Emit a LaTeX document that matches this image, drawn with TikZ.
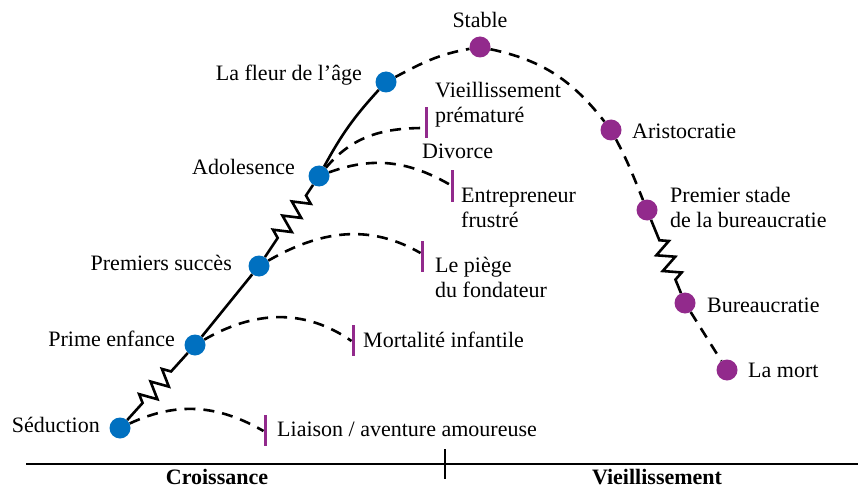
\documentclass[tikz,border=0pt]{standalone}
\usepackage{fontspec}
\setmainfont{Liberation Serif}
\usetikzlibrary{decorations.pathmorphing}
\definecolor{dotblue}{RGB}{0,112,192}
\definecolor{dotpurple}{RGB}{146,42,140}
\begin{document}
\begin{tikzpicture}[x=1pt,y=1pt,
  bluedot/.style={circle,fill=dotblue,inner sep=0pt,minimum size=21pt},
  purpledot/.style={circle,fill=dotpurple,inner sep=0pt,minimum size=21pt},
  endbar/.style={rectangle,fill=dotpurple,inner sep=0pt,minimum width=3pt,minimum height=31pt},
  lab/.style={inner sep=0pt,font=\fontsize{22}{25}\selectfont},
  solidline/.style={line width=2.6pt,black},
  dashline/.style={line width=2.6pt,black,dash pattern=on 11pt off 8pt},
  springdeco/.style={decorate,decoration={zigzag,segment length=17pt,amplitude=8.5pt,#1}}
]
\useasboundingbox (0,0) rectangle (858,488);

% dots
\node[bluedot] (sed) at (120,60) {};
\node[bluedot] (prime) at (195,143) {};
\node[bluedot] (succes) at (259,222) {};
\node[bluedot] (ado) at (319,312) {};
\node[bluedot] (fleur) at (386,406) {};
\node[purpledot] (stable) at (480,441) {};
\node[purpledot] (aristo) at (611,358) {};
\node[purpledot] (premier) at (647,278) {};
\node[purpledot] (bureau) at (685,185) {};
\node[purpledot] (mort) at (727,118) {};

% bars
\node[endbar] (b1) at (265,58) {};
\node[endbar] (b2) at (353,147.5) {};
\node[endbar] (b3) at (422,232) {};
\node[endbar] (b4) at (452,302) {};
\node[endbar] (b5) at (426,365) {};
\coordinate (e1) at (263.5,57);
\coordinate (e2) at (351.5,147);
\coordinate (e3) at (420.5,235);
\coordinate (e4) at (450.5,303);
\coordinate (e5) at (424.5,360);

% main path
\draw[solidline,springdeco={pre length=23pt,post length=19pt}] (sed) -- (prime);
\draw[solidline] (prime) -- (succes);
\draw[solidline,springdeco={pre length=23pt,post length=12pt}] (succes) -- (ado);
\draw[solidline] (ado) to[bend left=7] (fleur);
\draw[dashline] (fleur) to[out=28,in=190] (stable);
\draw[dashline] (stable) to[out=-12,in=128] (aristo);
\draw[dashline] (aristo) to[out=-62,in=112] (premier);
\draw[solidline,springdeco={pre length=22pt,post length=11pt}] (premier) -- (bureau);
\draw[dashline] (bureau) -- (mort);

% branches
\draw[dashline] (sed) to[out=25,in=150] (e1);
\draw[dashline] (prime) to[out=30,in=145] (e2);
\draw[dashline] (succes) to[out=30,in=150] (e3);
\draw[dashline] (ado) to[out=20,in=150] (e4);
\draw[dashline] (ado) to[out=50,in=180] (e5);

% labels
\node[lab,anchor=base east] (lsed) at (100,56) {Séduction};
\node[lab,anchor=base east] (lprime) at (175,142) {Prime enfance};
\node[lab,anchor=base east] (lsucces) at (232,218) {Premiers succès};
\node[lab,anchor=base east] (lado) at (295,313) {Adolesence};
\node[lab,anchor=base east] (lfleur) at (362,407) {La fleur de l’âge};
\node[lab,anchor=base] (lstable) at (480,460) {Stable};
\node[lab,anchor=base west] (lvieil) at (435,390) {\begin{tabular}[t]{@{}l@{}}Vieillissement\\prématuré\end{tabular}};
\node[lab,anchor=base west] (ldiv) at (422,329) {Divorce};
\node[lab,anchor=base west] (lentr) at (461,286) {\begin{tabular}[t]{@{}l@{}}Entrepreneur\\frustré\end{tabular}};
\node[lab,anchor=base west] (lpiege) at (435,216) {\begin{tabular}[t]{@{}l@{}}Le piège\\du fondateur\end{tabular}};
\node[lab,anchor=base west] (lmort) at (363,141) {Mortalité infantile};
\node[lab,anchor=base west] (lliai) at (277,52) {Liaison / aventure amoureuse};
\node[lab,anchor=base west] (laristo) at (632,349) {Aristocratie};
\node[lab,anchor=base west] (lpremier) at (670,286) {\begin{tabular}[t]{@{}l@{}}Premier stade\\de la bureaucratie\end{tabular}};
\node[lab,anchor=base west] (lbureau) at (707,176) {Bureaucratie};
\node[lab,anchor=base west] (llamort) at (748,111) {La mort};

% axis
\coordinate (axl) at (26,24);
\coordinate (axr) at (858,24);
\coordinate (tkt) at (445,39);
\coordinate (tkb) at (445,9);
\draw[line width=2.6pt] (axl) -- (axr);
\draw[line width=2.6pt] (tkt) -- (tkb);
\node[lab,anchor=base,font=\fontsize{22}{25}\selectfont\bfseries] (lcroi) at (217,4) {Croissance};
\node[lab,anchor=base,font=\fontsize{22}{25}\selectfont\bfseries] (lvieb) at (657,4) {Vieillissement};
\end{tikzpicture}
\end{document}
